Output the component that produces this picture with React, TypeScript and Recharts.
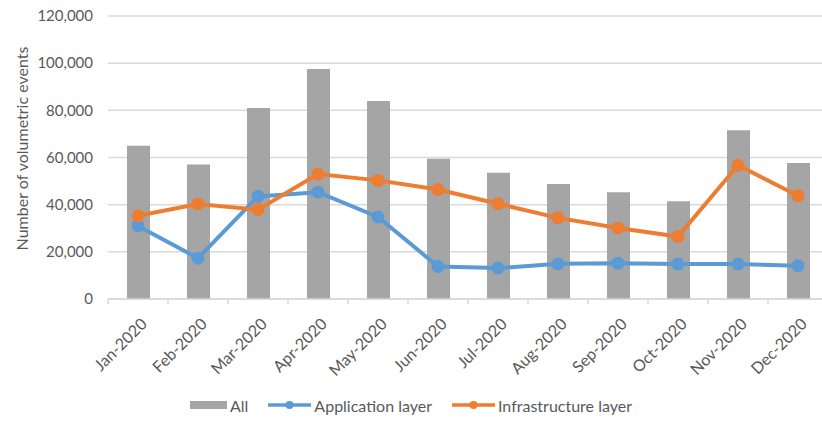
import React from "react";
import {
  ComposedChart,
  Bar,
  Line,
  XAxis,
  YAxis,
  CartesianGrid,
  Legend,
} from "recharts";

const months = [
  "Jan-2020", "Feb-2020", "Mar-2020", "Apr-2020", "May-2020", "Jun-2020",
  "Jul-2020", "Aug-2020", "Sep-2020", "Oct-2020", "Nov-2020", "Dec-2020",
];
const allEvents = [65000, 57000, 81000, 97500, 84000, 59500, 53500, 48800, 45300, 41400, 71600, 57700];
const applicationLayer = [31000, 17300, 43500, 45300, 34800, 13800, 13100, 14900, 15200, 14800, 14800, 14100];
const infrastructureLayer = [35300, 40300, 37900, 53000, 50300, 46400, 40400, 34400, 30100, 26500, 56700, 43800];
const yTicks = [0, 20000, 40000, 60000, 80000, 100000, 120000];

const GRAY = "#a5a5a5";
const BLUE = "#5b9bd5";
const ORANGE = "#ed7d31";
const TEXT = "#595959";
const FONT = "Lato, 'Open Sans', sans-serif";

const data = months.map((m, i) => ({
  month: m,
  all: allEvents[i],
  app: applicationLayer[i],
  infra: infrastructureLayer[i],
}));

// rotated month label plus the small tick marks between categories
function MonthTick(props: any) {
  const { x, y, payload, index, visibleTicksCount } = props;
  const half = payload && payload.offset ? payload.offset : 0;
  return (
    <g>
      {half > 0 && (
        <line x1={x - half} x2={x - half} y1={y} y2={y + 5} stroke="#d9d9d9" strokeWidth={1.5} />
      )}
      {half > 0 && index === visibleTicksCount - 1 && (
        <line x1={x + half} x2={x + half} y1={y} y2={y + 5} stroke="#d9d9d9" strokeWidth={1.5} />
      )}
      <g transform={`translate(${x + 6},${y + 22})`}>
        <text
          x={0}
          y={0}
          dy="0.35em"
          textAnchor="end"
          transform="rotate(-45)"
          fill={TEXT}
          fontSize={16}
          fontFamily={FONT}
        >
          {payload.value}
        </text>
      </g>
    </g>
  );
}

function LegendContent() {
  const item = (swatch: React.ReactNode, label: string) => (
    <div style={{ display: "flex", alignItems: "center", margin: "0 10px" }}>
      {swatch}
      <span style={{ marginLeft: 3 }}>{label}</span>
    </div>
  );
  const lineSwatch = (color: string) => (
    <svg width={43} height={12}>
      <line x1={0} x2={43} y1={6} y2={6} stroke={color} strokeWidth={3.5} />
      <circle cx={21.5} cy={6} r={4} fill={color} />
    </svg>
  );
  return (
    <div
      style={{
        display: "flex",
        justifyContent: "center",
        alignItems: "center",
        height: 30,
        fontFamily: FONT,
        fontSize: 16,
        color: TEXT,
      }}
    >
      {item(<div style={{ width: 37, height: 8, background: GRAY }} />, "All")}
      {item(lineSwatch(BLUE), "Application layer")}
      {item(lineSwatch(ORANGE), "Infrastructure layer")}
    </div>
  );
}

function YTitle(props: any) {
  const vb = props.viewBox || {};
  const cx = (vb.x || 0) + 21;
  const cy = (vb.y || 0) + (vb.height || 0) / 2 - 9;
  return (
    <text
      x={cx}
      y={cy}
      transform={`rotate(-90, ${cx}, ${cy})`}
      textAnchor="middle"
      dominantBaseline="central"
      fill={TEXT}
      fontSize={16}
      fontFamily={FONT}
    >
      Number of volumetric events
    </text>
  );
}

export default function App() {
  return (
    <div
      style={{
        position: "absolute",
        left: 0,
        top: 0,
        width: 822,
        height: 425,
        overflow: "hidden",
        background: "#fff",
      }}
    >
      <ComposedChart
        width={830}
        height={425}
        data={data}
        margin={{ top: 16, right: 2, bottom: 0, left: 0 }}
      >
        <CartesianGrid vertical={false} stroke="#d9d9d9" strokeWidth={1.5} />
        <XAxis
          dataKey="month"
          height={96}
          interval={0}
          tickLine={false}
          tickSize={0}
          tickMargin={0}
          axisLine={{ stroke: "#d9d9d9", strokeWidth: 1.5 }}
          tick={<MonthTick />}
        />
        <YAxis
          width={108}
          domain={[0, 120000]}
          ticks={yTicks}
          interval={0}
          axisLine={false}
          tickLine={false}
          tickSize={6}
          tickMargin={9}
          tickFormatter={(v: number) => v.toLocaleString("en-US")}
          tick={{ fill: TEXT, fontSize: 15, fontFamily: FONT }}
          label={{ content: (p: any) => <YTitle {...p} /> }}
        />
        <Legend
          verticalAlign="bottom"
          content={() => <LegendContent />}
          wrapperStyle={{ left: 0, width: 822, bottom: 5 }}
        />
        <Bar dataKey="all" name="All" fill={GRAY} barSize={23} isAnimationActive={false} />
        <Line
          dataKey="app"
          name="Application layer"
          stroke={BLUE}
          strokeWidth={4}
          dot={{ r: 4.5, fill: BLUE, stroke: BLUE }}
          isAnimationActive={false}
        />
        <Line
          dataKey="infra"
          name="Infrastructure layer"
          stroke={ORANGE}
          strokeWidth={4}
          dot={{ r: 4.5, fill: ORANGE, stroke: ORANGE }}
          isAnimationActive={false}
        />
      </ComposedChart>
    </div>
  );
}
